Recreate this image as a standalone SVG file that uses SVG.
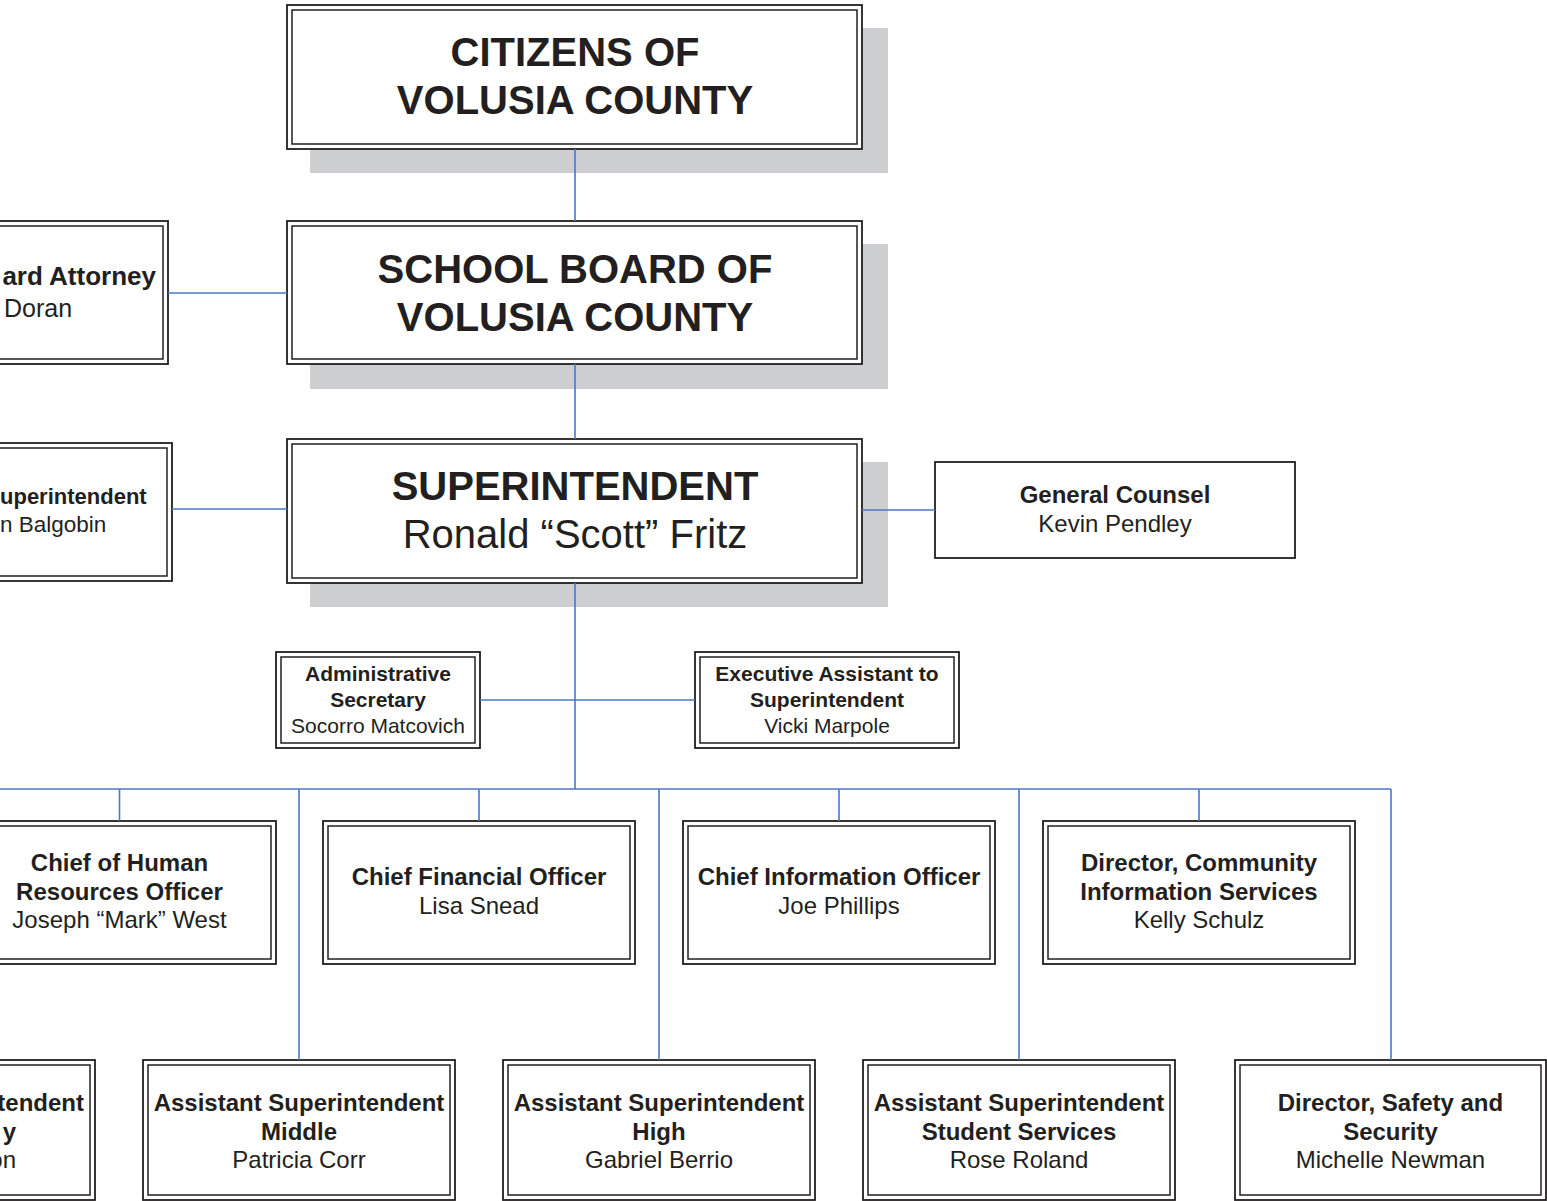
<svg xmlns="http://www.w3.org/2000/svg" width="1547" height="1201" viewBox="0 0 1547 1201">
  <style>
    .bg { fill: #ffffff; }
    .shadow { fill: #cdcecf; }
    .o { fill: #ffffff; stroke: #231f20; stroke-width: 1.8; }
    .i { fill: none; stroke: #231f20; stroke-width: 1.5; }
    .single { fill: #ffffff; stroke: #231f20; stroke-width: 1.8; }
    text { font-family: "Liberation Sans", Arial, sans-serif; fill: #231f20; text-anchor: middle; }
    .big { font-size: 40px; font-weight: bold; }
    .bigname { font-size: 40px; }
    .t { font-size: 24px; font-weight: bold; }
    .n { font-size: 24px; }
    .ts { font-size: 21px; font-weight: bold; }
    .ns { font-size: 21px; }
    .end { text-anchor: end; }
    .start { text-anchor: start; }
    .conn line { stroke: #4a78c0; stroke-width: 1.6; }
  </style>

  <rect class="bg" x="0" y="0" width="1547" height="1201"/>

  <!-- top level: citizens -->
  <g id="citizens">
    <rect class="shadow" x="310" y="28" width="578" height="145"/>
    <rect class="o" x="287" y="5" width="575" height="144"/>
    <rect class="i" x="292" y="10" width="565" height="134"/>
    <text class="big" x="575" y="66">CITIZENS OF</text>
    <text class="big" x="575" y="114">VOLUSIA COUNTY</text>
  </g>

  <g id="school-board">
    <rect class="shadow" x="310" y="244" width="578" height="145"/>
    <rect class="o" x="287" y="221" width="575" height="143"/>
    <rect class="i" x="292" y="226" width="565" height="133"/>
    <text class="big" x="575" y="283">SCHOOL BOARD OF</text>
    <text class="big" x="575" y="331">VOLUSIA COUNTY</text>
  </g>

  <g id="superintendent">
    <rect class="shadow" x="310" y="462" width="578" height="145"/>
    <rect class="o" x="287" y="439" width="575" height="144"/>
    <rect class="i" x="292" y="444" width="565" height="134"/>
    <text class="big" x="575" y="500">SUPERINTENDENT</text>
    <text class="bigname" x="575" y="548">Ronald “Scott” Fritz</text>
  </g>

  <g id="board-attorney">
    <rect class="o" x="-150" y="221" width="318" height="143"/>
    <rect class="i" x="-145" y="226" width="308" height="133"/>
    <text class="t end" x="156" y="285" style="font-size:26px">ard Attorney</text>
    <text class="n start" x="4" y="317" style="font-size:25px">Doran</text>
  </g>

  <g id="deputy">
    <rect class="o" x="-150" y="443" width="322" height="138"/>
    <rect class="i" x="-145" y="448" width="312" height="128"/>
    <text class="t start" x="0" y="504" style="font-size:22px">uperintendent</text>
    <text class="n start" x="0" y="532" style="font-size:22.5px">n Balgobin</text>
  </g>

  <g id="general-counsel">
    <rect class="single" x="935" y="462" width="360" height="96"/>
    <text class="t" x="1115" y="503">General Counsel</text>
    <text class="n" x="1115" y="532">Kevin Pendley</text>
  </g>

  <g id="admin-secretary">
    <rect class="o" x="276" y="652" width="204" height="96"/>
    <rect class="i" x="281" y="657" width="194" height="86"/>
    <text class="ts" x="378" y="681">Administrative</text>
    <text class="ts" x="378" y="707">Secretary</text>
    <text class="ns" x="378" y="733">Socorro Matcovich</text>
  </g>

  <g id="executive-assistant">
    <rect class="o" x="695" y="652" width="264" height="96"/>
    <rect class="i" x="700" y="657" width="254" height="86"/>
    <text class="ts" x="827" y="681">Executive Assistant to</text>
    <text class="ts" x="827" y="707">Superintendent</text>
    <text class="ns" x="827" y="733">Vicki Marpole</text>
  </g>

  <!-- second row -->
  <g id="human-resources">
    <rect class="o" x="-37" y="821" width="313" height="143"/>
    <rect class="i" x="-32" y="826" width="303" height="133"/>
    <text class="t" x="119.5" y="871">Chief of Human</text>
    <text class="t" x="119.5" y="900">Resources Officer</text>
    <text class="n" x="119.5" y="928">Joseph “Mark” West</text>
  </g>

  <g id="cfo">
    <rect class="o" x="323" y="821" width="312" height="143"/>
    <rect class="i" x="328" y="826" width="302" height="133"/>
    <text class="t" x="479" y="885">Chief Financial Officer</text>
    <text class="n" x="479" y="914">Lisa Snead</text>
  </g>

  <g id="cio">
    <rect class="o" x="683" y="821" width="312" height="143"/>
    <rect class="i" x="688" y="826" width="302" height="133"/>
    <text class="t" x="839" y="885">Chief Information Officer</text>
    <text class="n" x="839" y="914">Joe Phillips</text>
  </g>

  <g id="community-info">
    <rect class="o" x="1043" y="821" width="312" height="143"/>
    <rect class="i" x="1048" y="826" width="302" height="133"/>
    <text class="t" x="1199" y="871">Director, Community</text>
    <text class="t" x="1199" y="900">Information Services</text>
    <text class="n" x="1199" y="928">Kelly Schulz</text>
  </g>

  <!-- third row -->
  <g id="asst-elementary">
    <rect class="o" x="-217" y="1060" width="312" height="140"/>
    <rect class="i" x="-212" y="1065" width="302" height="130"/>
    <text class="t end" x="84" y="1111">tendent</text>
    <text class="t end" x="16" y="1140">y</text>
    <text class="n end" x="16" y="1168">on</text>
  </g>

  <g id="asst-middle">
    <rect class="o" x="143" y="1060" width="312" height="140"/>
    <rect class="i" x="148" y="1065" width="302" height="130"/>
    <text class="t" x="299" y="1111">Assistant Superintendent</text>
    <text class="t" x="299" y="1140">Middle</text>
    <text class="n" x="299" y="1168">Patricia Corr</text>
  </g>

  <g id="asst-high">
    <rect class="o" x="503" y="1060" width="312" height="140"/>
    <rect class="i" x="508" y="1065" width="302" height="130"/>
    <text class="t" x="659" y="1111">Assistant Superintendent</text>
    <text class="t" x="659" y="1140">High</text>
    <text class="n" x="659" y="1168">Gabriel Berrio</text>
  </g>

  <g id="asst-student-services">
    <rect class="o" x="863" y="1060" width="312" height="140"/>
    <rect class="i" x="868" y="1065" width="302" height="130"/>
    <text class="t" x="1019" y="1111">Assistant Superintendent</text>
    <text class="t" x="1019" y="1140">Student Services</text>
    <text class="n" x="1019" y="1168">Rose Roland</text>
  </g>

  <g id="safety-security">
    <rect class="o" x="1235" y="1060" width="311" height="140"/>
    <rect class="i" x="1240" y="1065" width="301" height="130"/>
    <text class="t" x="1390.5" y="1111">Director, Safety and</text>
    <text class="t" x="1390.5" y="1140">Security</text>
    <text class="n" x="1390.5" y="1168">Michelle Newman</text>
  </g>

  <!-- connectors, drawn over the drop shadows -->
  <g id="connectors" class="conn">
    <line x1="575" y1="149" x2="575" y2="221"/>
    <line x1="575" y1="364" x2="575" y2="439"/>
    <line x1="575" y1="583" x2="575" y2="789"/>
    <line x1="168" y1="293" x2="287" y2="293"/>
    <line x1="172" y1="509" x2="287" y2="509"/>
    <line x1="862" y1="510" x2="935" y2="510"/>
    <line x1="480" y1="700" x2="695" y2="700"/>
    <line x1="0" y1="789" x2="1391" y2="789"/>
    <line x1="119.5" y1="789" x2="119.5" y2="821"/>
    <line x1="479" y1="789" x2="479" y2="821"/>
    <line x1="839" y1="789" x2="839" y2="821"/>
    <line x1="1199" y1="789" x2="1199" y2="821"/>
    <line x1="299" y1="789" x2="299" y2="1060"/>
    <line x1="659" y1="789" x2="659" y2="1060"/>
    <line x1="1019" y1="789" x2="1019" y2="1060"/>
    <line x1="1391" y1="789" x2="1391" y2="1060"/>
  </g>
</svg>
